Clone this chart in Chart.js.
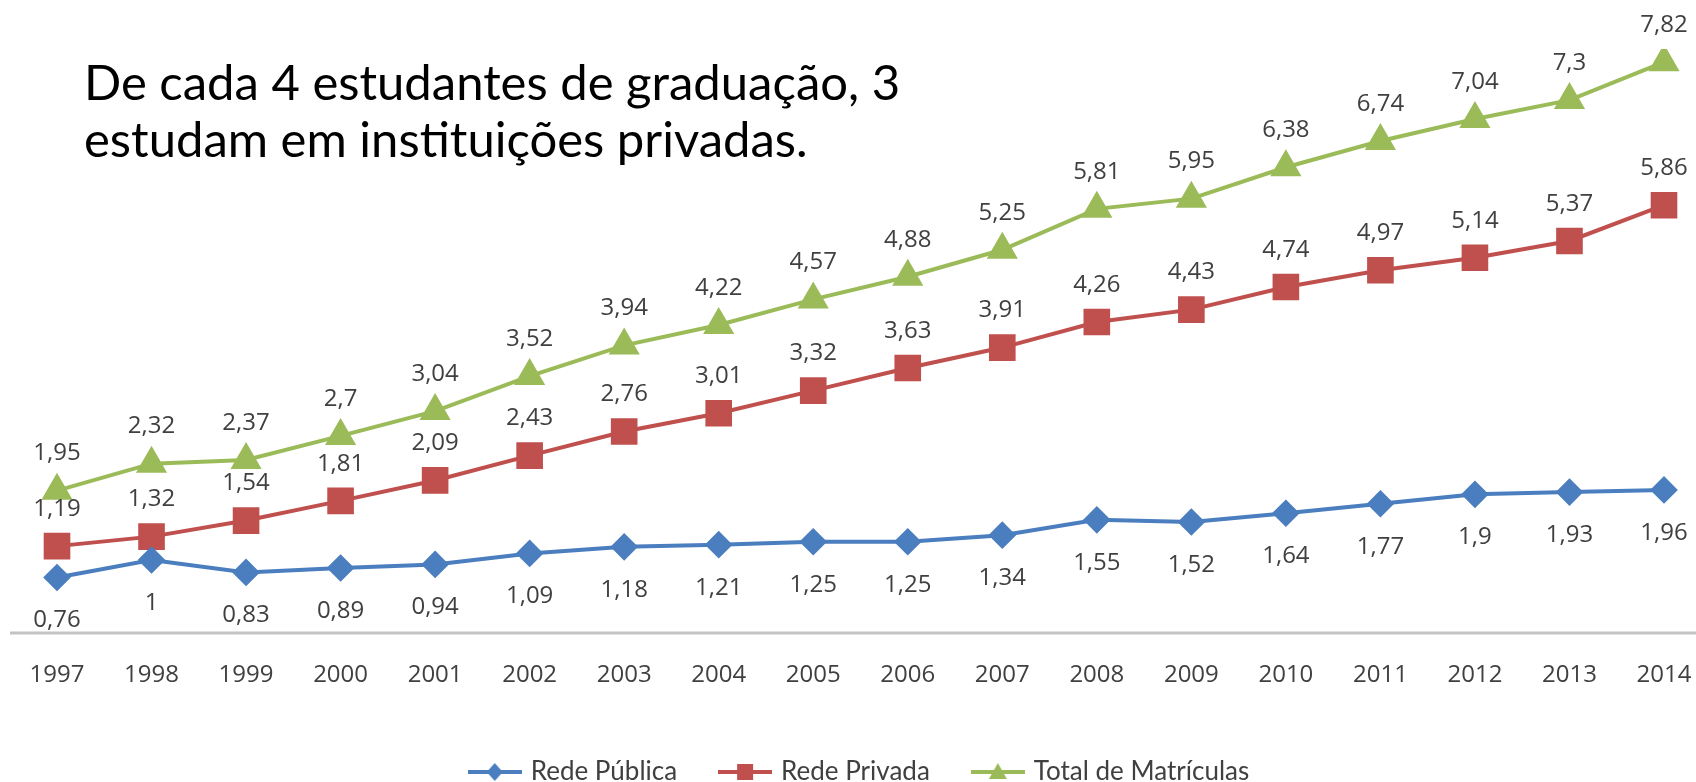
<!DOCTYPE html>
<html>
<head>
<meta charset="utf-8">
<title>Matrículas na graduação</title>
<script src="https://cdn.jsdelivr.net/npm/chart.js@4/dist/chart.umd.min.js"></script>
<style>
  body { margin: 0; background: #fff; }
  #wrap { position: relative; width: 1696px; height: 782px; overflow: hidden; }
  #headline {
    position: absolute; left: 84px; top: 53px;
    font-family: Lato, "Open Sans", sans-serif; font-size: 49px; line-height: 57px;
    color: #000;
  }
</style>
</head>
<body>
<div id="wrap">
  <canvas id="matriculasChart" width="1696" height="782"></canvas>
  <div id="headline">De cada 4 estudantes de graduação, 3<br>estudam em instituições privadas.</div>
</div>
<script>
// ==========================================
// dados (milhões de matrículas)
// ==========================================

const anos = ["1997", "1998", "1999", "2000", "2001", "2002", "2003", "2004", "2005",
              "2006", "2007", "2008", "2009", "2010", "2011", "2012", "2013", "2014"];

const redePublica = [0.76, 1, 0.83, 0.89, 0.94, 1.09, 1.18, 1.21, 1.25,
                     1.25, 1.34, 1.55, 1.52, 1.64, 1.77, 1.9, 1.93, 1.96];

const redePrivada = [1.19, 1.32, 1.54, 1.81, 2.09, 2.43, 2.76, 3.01, 3.32,
                     3.63, 3.91, 4.26, 4.43, 4.74, 4.97, 5.14, 5.37, 5.86];

const totalMatriculas = [1.95, 2.32, 2.37, 2.7, 3.04, 3.52, 3.94, 4.22, 4.57,
                         4.88, 5.25, 5.81, 5.95, 6.38, 6.74, 7.04, 7.3, 7.82];

const nomesSeries = ["Rede Pública", "Rede Privada", "Total de Matrículas"];

const cores = ["#4a7ebf", "#c0504d", "#9bbb59"];

// ==========================================
// ícones da legenda (linha com marcador)
// ==========================================

function iconeLegenda(cor, forma) {
    const c = document.createElement("canvas");
    c.width = 54;
    c.height = 24;
    const g = c.getContext("2d");
    g.strokeStyle = cor;
    g.fillStyle = cor;
    g.lineWidth = 4;
    g.beginPath();
    g.moveTo(0, 12);
    g.lineTo(54, 12);
    g.stroke();
    g.beginPath();
    if (forma === "losango") {
        g.moveTo(27, 3); g.lineTo(35, 12); g.lineTo(27, 21); g.lineTo(19, 12);
    } else if (forma === "quadrado") {
        g.rect(19, 4, 16, 16);
    } else {
        g.moveTo(27, 3); g.lineTo(36, 19); g.lineTo(18, 19);
    }
    g.closePath();
    g.fill();
    return c;
}

const icones = [
    iconeLegenda(cores[0], "losango"),
    iconeLegenda(cores[1], "quadrado"),
    iconeLegenda(cores[2], "triangulo")
];

// ==========================================
// rótulos de valores e linha do eixo
// ==========================================

const deslocRotulo = [43, -37, -37];

const rotulosPlugin = {
    id: "rotulos",
    beforeDatasetsDraw(chart) {
        const ctx = chart.ctx;
        const y0 = chart.scales.y.getPixelForValue(0);
        ctx.save();
        ctx.strokeStyle = "#c3c3c3";
        ctx.lineWidth = 3;
        ctx.beginPath();
        ctx.moveTo(10, y0);
        ctx.lineTo(chart.width, y0);
        ctx.stroke();
        ctx.restore();
    },
    afterDatasetsDraw(chart) {
        const ctx = chart.ctx;
        ctx.save();
        ctx.font = '24px "Open Sans"';
        ctx.fillStyle = "#404040";
        ctx.textAlign = "center";
        ctx.textBaseline = "middle";
        chart.data.datasets.forEach((ds, i) => {
            chart.getDatasetMeta(i).data.forEach((pt, j) => {
                const txt = String(ds.data[j]).replace(".", ",");
                ctx.fillText(txt, pt.x, pt.y + deslocRotulo[i]);
            });
        });
        ctx.restore();
    }
};

// ==========================================
// gráfico
// ==========================================

const ctx = document.getElementById("matriculasChart").getContext("2d");

new Chart(ctx, {

    type: "line",

    data: {
        labels: anos,
        datasets: [
            {
                label: nomesSeries[0],
                data: redePublica,
                borderColor: cores[0],
                backgroundColor: cores[0],
                borderWidth: 4,
                pointStyle: "rectRot",
                pointRadius: 11,
                pointHoverRadius: 11
            },
            {
                label: nomesSeries[1],
                data: redePrivada,
                borderColor: cores[1],
                backgroundColor: cores[1],
                borderWidth: 4,
                pointStyle: "rect",
                pointRadius: 16,
                pointHoverRadius: 16
            },
            {
                label: nomesSeries[2],
                data: totalMatriculas,
                borderColor: cores[2],
                backgroundColor: cores[2],
                borderWidth: 4,
                pointStyle: "triangle",
                pointRadius: 14,
                pointHoverRadius: 14
            }
        ]
    },

    options: {
        responsive: false,
        animation: false,
        layout: {
            padding: { left: 57, right: 32, top: 49, bottom: -13 }
        },
        scales: {
            x: {
                offset: false,
                grid: { display: false, drawTicks: false },
                border: { display: false },
                ticks: {
                    autoSkip: false,
                    maxRotation: 0,
                    padding: 28,
                    color: "#404040",
                    font: { family: "Open Sans", size: 24 }
                },
                afterFit(scale) {
                    scale.height = 81;
                    scale.paddingLeft = 0;
                    scale.paddingRight = 0;
                }
            },
            y: {
                display: false,
                min: 0,
                max: 8
            }
        },
        plugins: {
            legend: {
                position: "bottom",
                labels: {
                    usePointStyle: true,
                    pointStyleWidth: 46,
                    padding: 45,
                    color: "#404040",
                    font: { family: "Lato", size: 26 },
                    generateLabels(chart) {
                        const itens = Chart.defaults.plugins.legend.labels.generateLabels(chart);
                        itens.forEach((it, i) => { it.pointStyle = icones[i]; });
                        return itens;
                    }
                }
            },
            tooltip: { enabled: false }
        }
    },

    plugins: [rotulosPlugin]

});
</script>
</body>
</html>
